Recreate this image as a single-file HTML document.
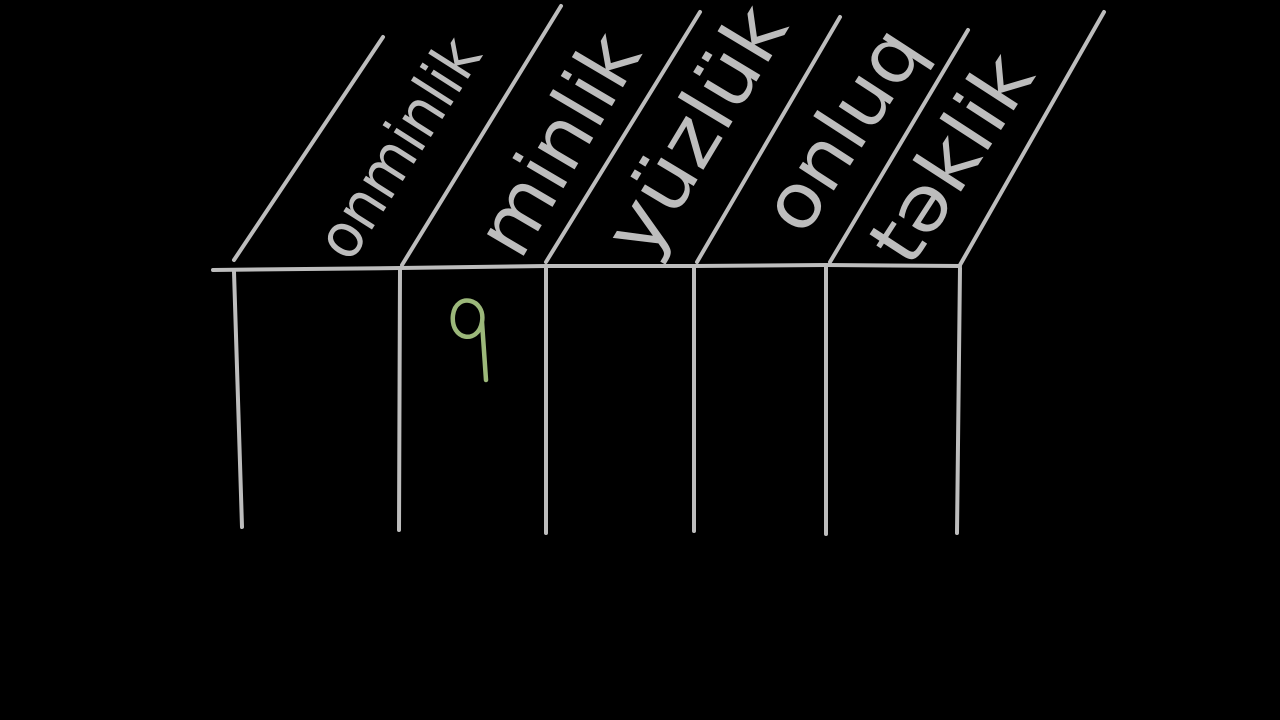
<!DOCTYPE html>
<html><head><style>html,body{margin:0;background:#000;width:1280px;height:720px;overflow:hidden}</style></head>
<body>
<svg width="1280" height="720" viewBox="0 0 1280 720" xmlns="http://www.w3.org/2000/svg">
<g stroke="#bdbdbd" stroke-width="4" stroke-linecap="round" fill="none">
<path d="M213 270 L400 268 L546 266 L694 266 L826 265 L960 266"/>
<path d="M234 272 L242 527"/>
<path d="M400 270 L399 530"/>
<path d="M546 268 L546 533"/>
<path d="M694 268 L694 531"/>
<path d="M826 267 L826 534"/>
<path d="M960 268 L957 533"/>
<path d="M234 260 L383 37"/>
<path d="M402 265 L561 6"/>
<path d="M546 262 L700 12"/>
<path d="M697 262 L840 17"/>
<path d="M830 262 L968 30"/>
<path d="M960 265 L1104 12"/>
</g>
<g fill="#bdbdbd" font-family="DejaVu Sans, sans-serif">
<text transform="translate(350,264) rotate(-57.5)" font-size="62" textLength="248" lengthAdjust="spacingAndGlyphs">onminlik</text>
<text transform="translate(520,262) rotate(-59.5)" font-size="78" textLength="242" lengthAdjust="spacingAndGlyphs">minlik</text>
<text transform="translate(648,262) rotate(-59)" font-size="78" textLength="275" lengthAdjust="spacingAndGlyphs">yüzlük</text>
<text transform="translate(803,238) rotate(-57)" font-size="76" textLength="225" lengthAdjust="spacingAndGlyphs">onluq</text>
<text transform="translate(910,270) rotate(-57)" font-size="76" textLength="232" lengthAdjust="spacingAndGlyphs">təklik</text>
</g>
<path d="M482 322 C486 298 456 292 453 315 C450 340 478 345 482 322 L486 380" stroke="#9cb87a" stroke-width="4.5" fill="none" stroke-linecap="round"/>
</svg>
</body></html>
